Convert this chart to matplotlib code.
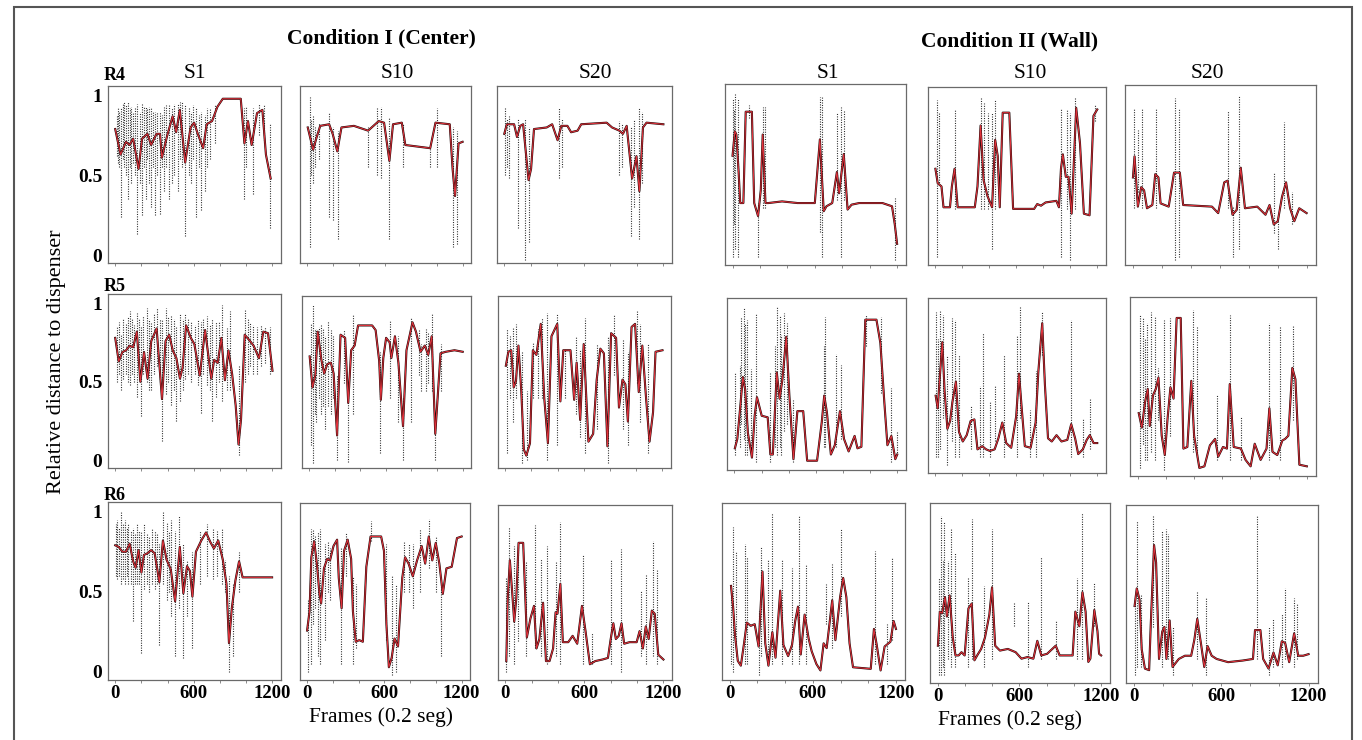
import matplotlib
matplotlib.use("Agg")
import matplotlib.pyplot as plt
from matplotlib.patches import Rectangle

plt.rcParams['font.family'] = ['Liberation Serif', 'DejaVu Serif']

# smoothed traces: (frame, relative distance)
# raw tracking excursions: (frame, low, high)

# ---- Condition I (Center), R4
c1_r4_s1 = [(0, .79), (41, .63), (82, .71), (109, .69), (137, .73), (178, .54), (205, .73), (246, .76),
            (274, .69), (315, .76), (342, .76), (356, .61), (397, .75), (438, .87), (465, .77), (493, .91),
            (534, .58), (575, .80), (602, .83), (630, .76), (671, .67), (698, .82), (739, .84), (780, .93),
            (821, .98), (958, .98), (986, .70), (1013, .84), (1041, .69), (1082, .89), (1123, .91),
            (1150, .63), (1186, .48)]
c1_r4_s1_raw = [(13, .62, .88), (22, .58, .92), (30, .55, .90), (46, .24, .93), (56, .60, .95), (68, .55, .96),
                (82, .50, .94), (96, .35, .96), (110, .55, .92), (123, .45, .93), (137, .58, .90),
                (150, .50, .92), (164, .13, .95), (190, .45, .90), (205, .25, .95), (220, .55, .93),
                (233, .35, .93), (246, .60, .92), (260, .45, .93), (274, .30, .92), (288, .55, .90),
                (301, .25, .90), (320, .50, .90), (342, .26, .90), (356, .55, .88), (370, .40, .93),
                (390, .55, .94), (411, .35, .95), (430, .45, .92), (452, .50, .95), (479, .40, .95),
                (495, .60, .96), (510, .55, .96), (534, .12, .95), (560, .50, .92), (575, .45, .90),
                (590, .60, .94), (616, .24, .93), (640, .55, .88), (657, .28, .90), (685, .40, .88),
                (700, .55, .92), (726, .60, .92), (760, .70, .95), (986, .35, .92), (1000, .55, .93),
                (1054, .38, .92), (1100, .75, .95), (1137, .70, .95), (1178, .17, .82)]
c1_r4_s10 = [(5, .80), (46, .66), (74, .74), (101, .81), (170, .82), (197, .76), (233, .65), (265, .80),
             (361, .81), (471, .78), (512, .81), (553, .84), (594, .83), (635, .59), (663, .82), (731, .83),
             (758, .69), (950, .67), (991, .83), (1101, .82), (1123, .54), (1142, .37), (1169, .70), (1200, .71)]
c1_r4_s10_raw = [(19, .05, .99), (30, .50, .85), (46, .45, .88), (60, .55, .80), (90, .60, .83), (170, .24, .90),
                 (202, .22, .80), (238, .10, .78), (471, .55, .80), (539, .50, .92), (567, .48, .93),
                 (635, .10, .86), (739, .55, .83), (950, .55, .68), (1005, .55, .92), (1128, .05, .80),
                 (1156, .07, .78)]
c1_r4_s20 = [(0, .76), (19, .82), (74, .82), (96, .74), (120, .81), (142, .82), (170, .58), (183, .47),
             (202, .54), (224, .79), (320, .80), (361, .82), (402, .72), (430, .81), (476, .81), (504, .77),
             (553, .78), (580, .82), (772, .83), (813, .80), (868, .78), (895, .76), (923, .81), (964, .48),
             (997, .62), (1019, .40), (1046, .80), (1073, .83), (1200, .82)]
c1_r4_s20_raw = [(6, .50, .92), (20, .55, .85), (33, .48, .87), (101, .17, .85), (156, -.03, .85),
                 (183, .08, .80), (416, .48, .92), (438, .55, .85), (868, .50, .84), (890, .55, .82),
                 (958, .12, .80), (978, .30, .85), (1019, .10, .92), (1041, .45, .90)]

# ---- Condition II (Wall), R4
c2_r4_s1 = [(0, .62), (17, .77), (28, .75), (45, .51), (56, .33), (79, .33), (96, .89), (141, .89),
            (158, .33), (186, .25), (206, .41), (220, .75), (240, .33), (262, .33), (361, .34), (473, .33),
            (600, .33), (637, .72), (665, .28), (685, .31), (727, .33), (761, .52), (777, .39), (811, .63),
            (839, .29), (868, .32), (924, .33), (1093, .33), (1163, .31), (1183, .20), (1200, .08)]
c2_r4_s1_raw = [(0, 0, .97), (8, .20, .90), (17, .05, 1.0), (37, 0, .97), (121, .85, .93), (186, 0, .33),
                (220, .30, .92), (240, .30, .92), (637, .15, .98), (653, 0, .98), (761, .35, .88),
                (789, 0, .92), (811, .35, .90), (1183, -.02, .36)]
c2_r4_s10 = [(0, .55), (17, .46), (45, .44), (60, .31), (108, .31), (122, .44), (142, .55), (165, .31),
             (292, .31), (312, .44), (335, .82), (357, .48), (386, .38), (420, .31), (443, .73), (462, .63),
             (477, .31), (499, .90), (548, .90), (576, .30), (732, .30), (755, .33), (783, .32), (817, .34),
             (897, .35), (916, .31), (931, .55), (945, .64), (967, .50), (987, .50), (1010, .27), (1044, .93),
             (1072, .71), (1101, .27), (1143, .26), (1172, .88), (1200, .92)]
c2_r4_s10_raw = [(11, 0, .98), (28, .45, .90), (142, .30, .92), (335, .30, 1.0), (357, .30, .96),
                 (392, .30, .90), (420, .05, .90), (443, .30, .98), (931, 0, .92), (973, .30, .92),
                 (1001, -.02, .90), (1038, .30, 1.0), (1186, .85, .95)]
c2_r4_s20 = [(0, .49), (11, .62), (34, .31), (57, .43), (77, .41), (97, .30), (134, .32), (154, .51),
             (176, .49), (191, .33), (247, .31), (284, .52), (324, .52), (347, .32), (546, .31), (589, .27),
             (631, .46), (654, .47), (688, .26), (717, .29), (745, .55), (774, .30), (859, .31), (916, .26),
             (944, .32), (973, .20), (1001, .22), (1030, .37), (1058, .46), (1086, .30), (1115, .22),
             (1149, .30), (1200, .27)]
c2_r4_s20_raw = [(6, .30, .92), (34, .40, .78), (63, .30, .92), (162, .30, .92), (290, -.02, .98),
                 (319, 0, .92), (654, .30, .90), (688, 0, .31), (731, .05, 1.0), (973, .15, .52),
                 (1001, .05, .25), (1044, .30, .83), (1101, .20, .40)]

# ---- Condition I (Center), R5
c1_r5_s1 = [(0, .78), (27, .63), (55, .69), (82, .70), (110, .73), (137, .72), (165, .82), (192, .50),
            (220, .69), (247, .52), (275, .76), (316, .84), (357, .39), (384, .76), (412, .80), (439, .70),
            (467, .65), (494, .52), (514, .59), (541, .86), (577, .78), (604, .74), (645, .54), (686, .83),
            (733, .52), (755, .64), (782, .62), (810, .78), (837, .51), (864, .70), (892, .55), (919, .35),
            (941, .10), (960, .26), (988, .80), (1029, .76), (1056, .73), (1097, .65), (1130, .82),
            (1166, .81), (1200, .57)]
c1_r5_s1_raw = [(14, .50, .85), (28, .55, .88), (41, .45, .80), (60, .52, .90), (82, .55, .87), (96, .50, .92),
                (110, .48, .95), (125, .55, .90), (140, .50, .86), (165, .40, .94), (180, .52, .90),
                (198, .28, .85), (215, .55, .92), (239, .50, .97), (255, .45, .90), (275, .45, .88),
                (295, .55, .93), (316, .60, .97), (340, .50, .90), (357, .12, .90), (384, .42, .97),
                (400, .50, .92), (425, .35, .92), (445, .45, .90), (467, .25, .85), (494, .38, .93),
                (515, .45, .90), (530, .52, .94), (555, .55, .90), (577, .50, .88), (610, .55, .86),
                (630, .48, .90), (651, .30, .88), (670, .55, .90), (700, .48, .92), (720, .45, .86),
                (741, .25, .90), (769, .40, .88), (790, .50, .88), (816, .38, .99), (851, .45, .84),
                (878, .45, .95), (941, .03, .60), (988, .50, .96), (1010, .55, .90), (1029, .60, .88),
                (1055, .55, .86), (1083, .55, .85), (1110, .60, .86), (1140, .62, .85), (1180, .55, .85)]
c1_r5_s10 = [(5, .67), (27, .47), (49, .55), (68, .83), (96, .65), (118, .56), (142, .62), (170, .63),
             (192, .56), (219, .16), (246, .81), (282, .79), (306, .37), (329, .71), (356, .74), (383, .87),
             (493, .87), (520, .84), (548, .64), (561, .39), (580, .66), (602, .79), (630, .76), (643, .66),
             (671, .80), (698, .63), (734, .22), (761, .71), (808, .89), (835, .83), (871, .70), (904, .74),
             (931, .68), (958, .80), (986, .17), (1027, .69), (1068, .70), (1136, .71), (1200, .70)]
c1_r5_s10_raw = [(14, .10, .88), (33, -.02, 1.0), (45, .30, .85), (55, .25, .85), (75, .40, .86),
                 (96, .30, .88), (110, .35, .85), (124, .20, .80), (151, .35, .90), (170, .30, .84),
                 (186, .40, .80), (219, 0, .55), (274, .50, .84), (306, -.01, .45), (342, .30, .94),
                 (553, .05, .70), (630, .40, .90), (698, .25, .80), (734, 0, .40), (795, .25, .92),
                 (860, .55, .85), (877, .45, .75), (912, .45, .85), (930, .50, .82), (958, .45, .95),
                 (986, 0, .30), (1027, .45, .75)]
c1_r5_s20 = [(5, .61), (24, .70), (46, .71), (65, .47), (82, .51), (101, .74), (123, .44), (142, .07),
             (161, .03), (189, .11), (211, .71), (238, .68), (271, .88), (298, .40), (326, .11), (353, .80),
             (397, .88), (421, .38), (443, .71), (498, .71), (526, .39), (545, .63), (572, .26), (599, .75),
             (635, .12), (671, .17), (698, .52), (726, .72), (753, .69), (780, .09), (808, .82), (846, .79),
             (868, .34), (895, .52), (917, .49), (936, .25), (964, .86), (991, .88), (1019, .44), (1046, .74),
             (1073, .42), (1101, .12), (1128, .31), (1147, .70), (1200, .71)]
c1_r5_s20_raw = [(11, .05, .85), (40, .40, .80), (60, .25, .86), (82, .40, .88), (129, -.02, .70),
                 (170, 0, .45), (211, .40, .76), (252, .40, .85), (280, .40, .92), (320, 0, .95),
                 (397, .10, .95), (460, .40, .72), (539, .30, .80), (572, .15, .72), (608, .05, .92),
                 (698, .20, .75), (786, -.02, .80), (827, .55, .94), (895, .20, .78), (936, .10, .70),
                 (1005, .50, .97), (1032, .25, .88), (1087, .05, .75)]

# ---- Condition II (Wall), R5
c2_r5_s1 = [(3, .09), (21, .15), (41, .34), (62, .55), (79, .47), (99, .19), (129, .03), (149, .30),
            (166, .42), (201, .30), (245, .29), (265, .05), (283, .05), (312, .58), (333, .41), (353, .53),
            (382, .81), (405, .43), (435, .02), (464, .33), (507, .33), (536, .01), (609, .01), (644, .26),
            (662, .43), (682, .32), (711, .05), (740, .11), (778, .33), (808, .15), (842, .07), (886, .17),
            (907, .09), (936, .10), (965, .92), (1047, .92), (1076, .77), (1105, .39), (1128, .11),
            (1157, .17), (1186, .02), (1200, .05)]
c2_r5_s1_raw = [(3, .05, .58), (40, .10, .62), (50, .25, .94), (67, .15, 1.0), (78, .05, .90), (90, .05, .92),
                (120, .05, .60), (158, 0, .96), (259, 0, .58), (300, .10, .75), (312, .05, 1.0),
                (333, .10, .95), (345, .05, .82), (362, .20, .96), (391, .25, .90), (435, 0, .40),
                (660, .10, .75), (667, .10, .94), (749, .10, .70), (784, .15, .63), (973, .75, .95),
                (1082, .45, .94), (1157, 0, .48), (1195, .05, .20)]
c2_r5_s10 = [(2, .44), (17, .36), (31, .54), (51, .78), (68, .47), (89, .23), (109, .28), (126, .40),
             (152, .53), (175, .21), (203, .15), (232, .19), (261, .28), (289, .29), (312, .10), (347, .12),
             (376, .10), (404, .09), (439, .10), (467, .17), (496, .27), (525, .14), (562, .11), (599, .31),
             (620, .58), (640, .36), (663, .12), (706, .11), (743, .27), (763, .59), (792, .90), (812, .51),
             (835, .17), (863, .15), (898, .19), (935, .15), (978, .16), (1007, .26), (1036, .17),
             (1059, .07), (1093, .10), (1122, .16), (1145, .19), (1173, .14), (1200, .14)]
c2_r5_s10_raw = [(8, .05, .97), (20, .05, .80), (31, .10, .98), (54, .30, .95), (89, 0, .70), (123, .15, .93),
                 (146, .05, .92), (175, .05, .70), (261, .10, .38), (330, .05, .50), (353, .05, .84),
                 (404, .05, .40), (439, .15, .50), (505, .05, .70), (605, .05, .82), (628, .30, 1.0),
                 (700, .05, .35), (743, .05, .60), (792, .70, .98), (1007, .05, .92), (1093, .05, .30),
                 (1145, .10, .42)]
c2_r5_s20 = [(7, .34), (29, .25), (52, .41), (71, .49), (85, .26), (108, .45), (128, .49), (147, .56),
             (170, .20), (192, .08), (212, .31), (232, .50), (254, .43), (276, .93), (305, .93), (324, .12),
             (352, .13), (380, .54), (400, .20), (437, .00), (473, .01), (512, .14), (549, .18), (571, .07),
             (605, .13), (633, .12), (653, .52), (681, .13), (732, .12), (765, .05), (801, .01), (830, .15),
             (872, .05), (914, .12), (934, .37), (956, .10), (990, .08), (1026, .17), (1046, .18),
             (1069, .20), (1097, .62), (1119, .55), (1147, .02), (1200, .01)]
c2_r5_s20_raw = [(15, 0, .95), (35, .15, .93), (50, .05, .80), (63, .05, .90), (91, .10, .97), (119, .05, .94),
                 (147, .30, .62), (184, -.01, .92), (232, .20, .93), (389, .10, .98), (423, .05, .88),
                 (563, .05, .45), (653, .05, .95), (732, .05, .32), (928, .05, .90), (1012, .05, .88),
                 (1102, .30, .88)]

# ---- Condition I (Center), R6
c1_r6_s1 = [(0, .79), (27, .78), (55, .75), (82, .75), (110, .80), (137, .69), (156, .65), (178, .76),
            (200, .62), (219, .73), (246, .74), (274, .76), (301, .74), (337, .56), (364, .82), (392, .70),
            (424, .64), (457, .44), (493, .78), (520, .49), (548, .66), (570, .63), (589, .47), (616, .75),
            (657, .82), (693, .87), (726, .81), (753, .77), (786, .82), (821, .70), (849, .55), (868, .18),
            (890, .40), (917, .57), (945, .69), (972, .59), (1197, .59)]
c1_r6_s1_raw = [(5, .60, .92), (14, .58, .95), (27, .60, .90), (41, .55, 1.0), (60, .58, .92), (74, .55, .95),
                (88, .60, .90), (101, .55, .92), (120, .55, .88), (137, .32, .90), (150, .55, .86),
                (164, .55, .92), (180, .55, .88), (197, .12, .88), (219, .52, .92), (240, .55, .86),
                (260, .50, .85), (280, .55, .90), (301, .52, .88), (320, .55, .86), (337, .17, .80),
                (364, .55, 1.0), (392, .45, .93), (410, .50, .88), (424, .35, .95), (457, .10, .88),
                (487, .40, .97), (520, .09, .80), (548, .35, .70), (589, .15, .75), (649, .55, .88),
                (698, .60, .92), (748, .58, .90), (780, .60, .88), (813, .55, .90), (835, .50, .70),
                (868, 0, .60), (895, .10, .55), (945, .50, .75)]
c1_r6_s10 = [(0, .26), (19, .38), (33, .72), (55, .82), (76, .68), (96, .49), (109, .43), (131, .65),
             (156, .71), (178, .70), (205, .79), (233, .83), (246, .59), (268, .40), (287, .76), (315, .83),
             (342, .71), (356, .38), (378, .19), (405, .20), (433, .19), (460, .66), (493, .85), (575, .85),
             (597, .76), (616, .30), (635, .03), (657, .09), (679, .21), (706, .16), (739, .59), (761, .72),
             (788, .68), (821, .60), (854, .70), (890, .79), (917, .68), (945, .85), (972, .70), (999, .81),
             (1027, .68), (1054, .49), (1082, .65), (1123, .66), (1164, .84), (1200, .85)]
c1_r6_s10_raw = [(5, 0, .45), (27, .05, .90), (49, .30, .90), (65, .40, .85), (82, .10, .88), (104, .05, .90),
                 (137, .20, .80), (160, .50, .82), (178, .45, .78), (260, .05, .78), (306, .60, .88),
                 (356, .05, .60), (383, .15, .55), (493, .82, .95), (616, .20, .80), (657, -.02, .60),
                 (690, 0, .55), (750, .50, .82), (790, .50, .80), (821, .40, .80), (877, .50, .90),
                 (945, .65, .96), (999, .50, .85), (1040, .10, .60)]
c1_r6_s20 = [(8, .07), (19, .47), (35, .71), (54, .49), (68, .32), (84, .47), (101, .82), (136, .82),
             (164, .22), (191, .34), (218, .42), (237, .15), (259, .21), (287, .44), (309, .07), (336, .07),
             (363, .15), (382, .38), (396, .37), (418, .56), (437, .19), (478, .19), (511, .23), (546, .18),
             (582, .42), (609, .26), (642, .05), (683, .07), (738, .08), (779, .09), (800, .21), (820, .31),
             (839, .21), (861, .23), (882, .31), (902, .18), (943, .19), (997, .19), (1019, .26), (1044, .15),
             (1066, .29), (1088, .21), (1112, .39), (1134, .37), (1161, .11), (1200, .08)]
c1_r6_s20_raw = [(8, 0, .60), (27, .10, .92), (63, .05, .80), (98, .20, .80), (158, .10, .70),
                 (227, .15, .93), (273, .10, .72), (314, .05, .80), (382, .10, .70), (418, .05, .95),
                 (587, .05, .75), (656, .05, .25), (806, .05, .72), (875, 0, .78), (1030, .10, .52),
                 (1066, .05, .62), (1120, .10, .83), (1148, .05, .65)]

# ---- Condition II (Wall), R6
c2_r6_s1 = [(10, .54), (25, .41), (39, .23), (59, .07), (81, .04), (104, .18), (124, .31), (152, .29),
            (181, .30), (209, .16), (237, .63), (257, .18), (280, .04), (308, .25), (331, .09), (365, .51),
            (388, .17), (422, .10), (450, .17), (473, .32), (493, .41), (513, .11), (541, .36), (570, .21),
            (592, .13), (626, .05), (655, .01), (678, .18), (700, .15), (720, .30), (740, .45), (763, .20),
            (797, .47), (819, .59), (842, .47), (865, .18), (890, .03), (1018, .02), (1041, .27),
            (1061, .17), (1089, .01), (1118, .16), (1160, .19), (1183, .32), (1200, .27)]
c2_r6_s1_raw = [(10, .05, .55), (25, 0, .91), (47, .10, .76), (110, .05, .80), (124, .05, .72),
                (209, -.02, .38), (229, .10, .79), (280, .05, .70), (303, .05, 1.0), (379, .05, .70),
                (450, .05, .65), (501, .05, .98), (550, .05, .68), (692, .30, .55), (735, .15, .68),
                (805, .35, .90), (1047, .05, .76), (1132, .05, .30), (1174, .20, .72)]
c2_r6_s10 = [(3, .18), (17, .39), (34, .38), (55, .48), (69, .36), (89, .49), (112, .23), (132, .12),
             (155, .12), (176, .14), (199, .12), (227, .41), (251, .44), (271, .09), (291, .12), (320, .16),
             (348, .23), (380, .37), (400, .54), (423, .18), (458, .15), (516, .16), (573, .14), (616, .10),
             (660, .11), (703, .10), (732, .21), (761, .12), (804, .13), (867, .18), (896, .12), (991, .12),
             (1011, .39), (1040, .30), (1063, .51), (1086, .39), (1106, .08), (1121, .10), (1150, .40),
             (1173, .27), (1185, .13), (1200, .12)]
c2_r6_s10_raw = [(11, 0, .60), (26, 0, .98), (40, .05, .70), (49, 0, .94), (78, .10, .70), (98, .05, .90),
                 (127, .05, .75), (227, .05, .60), (251, .10, .96), (343, .05, .55), (400, .10, .90),
                 (559, .30, .45), (660, .05, .45), (761, .10, .73), (867, .10, .33), (1020, .10, .60),
                 (1063, .10, 1.0), (1150, .30, .57)]
c2_r6_s20 = [(4, .43), (19, .54), (38, .47), (53, .16), (75, .04), (104, .03), (115, .31), (138, .81),
             (152, .70), (172, .10), (194, .27), (209, .30), (223, .10), (245, .34), (265, .05), (308, .10),
             (350, .12), (393, .12), (415, .22), (435, .35), (463, .18), (483, .05), (506, .18), (534, .12),
             (568, .10), (647, .08), (747, .09), (818, .10), (832, .28), (869, .28), (888, .10), (925, .04),
             (959, .14), (988, .06), (1016, .21), (1039, .20), (1067, .08), (1101, .26), (1129, .12),
             (1163, .12), (1200, .13)]
c2_r6_s20_raw = [(10, 0, .45), (24, .05, .96), (47, .05, .50), (132, .30, 1.0), (194, .05, .90),
                 (217, .10, .91), (237, .10, .88), (265, 0, .30), (435, .10, .52), (492, 0, .48),
                 (846, .10, 1.0), (931, 0, .30), (959, .05, .35), (1016, .05, .38), (1039, .10, .54),
                 (1101, .05, .48), (1123, .10, .44)]

sessions = ['S1', 'S10', 'S20']
rounds = ['R4', 'R5', 'R6']
conditions = ['Condition I (Center)', 'Condition II (Wall)']

traces = [[c1_r4_s1, c1_r4_s10, c1_r4_s20, c2_r4_s1, c2_r4_s10, c2_r4_s20],
          [c1_r5_s1, c1_r5_s10, c1_r5_s20, c2_r5_s1, c2_r5_s10, c2_r5_s20],
          [c1_r6_s1, c1_r6_s10, c1_r6_s20, c2_r6_s1, c2_r6_s10, c2_r6_s20]]
raw = [[c1_r4_s1_raw, c1_r4_s10_raw, c1_r4_s20_raw, c2_r4_s1_raw, c2_r4_s10_raw, c2_r4_s20_raw],
       [c1_r5_s1_raw, c1_r5_s10_raw, c1_r5_s20_raw, c2_r5_s1_raw, c2_r5_s10_raw, c2_r5_s20_raw],
       [c1_r6_s1_raw, c1_r6_s10_raw, c1_r6_s20_raw, c2_r6_s1_raw, c2_r6_s10_raw, c2_r6_s20_raw]]

# panel boxes in pixels: left, top, right, bottom
W, H = 1362, 740
boxes = [
    [(108, 86, 281, 263), (300, 86, 471, 263), (497, 86, 672, 263),
     (725, 84, 906, 265), (928, 87, 1106, 265), (1125, 85, 1316, 265)],
    [(108, 294, 281, 468), (302, 296, 471, 468), (498, 296, 671, 468),
     (727, 298, 906, 470), (928, 298, 1106, 473), (1130, 297, 1316, 476)],
    [(108, 502, 281, 680), (300, 503, 470, 680), (498, 505, 672, 680),
     (722, 503, 905, 680), (930, 503, 1110, 683), (1126, 505, 1318, 683)],
]

fig = plt.figure(figsize=(W / 100, H / 100), dpi=100)
fig.patch.set_facecolor('white')

def ftext(x, y, s, **kw):
    fig.text(x / W, 1 - y / H, s, **kw)

for r in range(3):
    for c in range(6):
        l, t, rr, b = boxes[r][c]
        ax = fig.add_axes([l / W, 1 - b / H, (rr - l) / W, (b - t) / H])
        spk = raw[r][c]
        ax.vlines([s[0] for s in spk], [s[1] for s in spk], [s[2] for s in spk],
                  colors='#222222', linestyles=(0, (0.9, 1.3)), linewidth=0.8)
        fx = [p[0] for p in traces[r][c]]
        fy = [p[1] for p in traces[r][c]]
        ax.plot(fx, fy, color='#1e0505', lw=1.5, solid_joinstyle='round')
        ax.plot(fx, fy, color='#e2323c', lw=0.75, solid_joinstyle='round')
        ax.set_xlim(-55, 1265)
        ax.set_ylim(-0.05, 1.06)
        for sp in ax.spines.values():
            sp.set_color('#6a6a6a')
            sp.set_linewidth(0.9)
        ax.set_xticks([0, 200, 400, 600, 800, 1000, 1200])
        if r == 2:
            ax.set_xticklabels(['0', '', '', '600', '', '', '1200'], fontweight='bold', fontsize=13.5)
        else:
            ax.set_xticklabels([])
        ax.tick_params(axis='x', length=2.5, width=0.6, color='#777', pad=1)
        ax.set_yticks([0, 0.5, 1])
        if c == 0:
            ax.set_yticklabels(['0', '0.5', '1'], fontweight='bold', fontsize=14)
        else:
            ax.set_yticklabels([])
        ax.tick_params(axis='y', length=0, pad=4)

# titles and labels
ftext(381, 38, conditions[0], ha='center', va='center', fontsize=15.5, fontweight='bold')
ftext(1010, 41, conditions[1], ha='center', va='center', fontsize=15.5, fontweight='bold')
for c, x in enumerate([195, 397, 595, 828, 1030, 1207]):
    ftext(x, 73, sessions[c % 3], ha='center', va='center', fontsize=15.5)
for r, y in enumerate([76, 286, 496]):
    ftext(104, y, rounds[r], ha='left', va='center', fontsize=13, fontweight='bold')
ftext(57, 362, 'Relative distance to dispenser', ha='center', va='center', rotation=90, fontsize=16)
ftext(381, 717, 'Frames (0.2 seg)', ha='center', va='center', fontsize=15.5)
ftext(1010, 720, 'Frames (0.2 seg)', ha='center', va='center', fontsize=15.5)

fig.add_artist(Rectangle((14 / W, -0.05), (1352 - 14) / W, 1.05 - 7 / H, transform=fig.transFigure,
                         fill=False, edgecolor='#555555', linewidth=1.5))

fig.savefig('out.png', dpi=100)
